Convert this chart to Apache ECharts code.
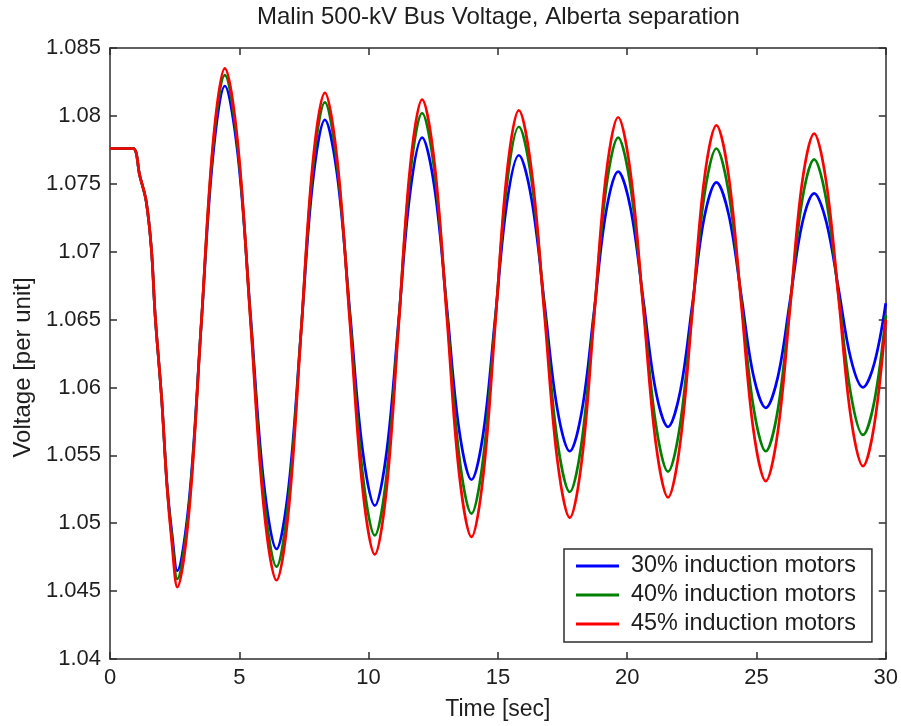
<!DOCTYPE html>
<html>
<head>
<meta charset="utf-8">
<script src="https://cdn.jsdelivr.net/npm/echarts@6/dist/echarts.min.js"></script>
<style>
html,body{margin:0;padding:0;background:#fff;}
#chart{width:901px;height:726px;}
</style>
</head>
<body>
<div id="chart"></div>
<script>
const titleText = 'Malin 500-kV Bus Voltage, Alberta separation';
const xName = 'Time [sec]';
const yName = 'Voltage [per unit]';
const seriesNames = ['30% induction motors', '40% induction motors', '45% induction motors'];

const times = [0, 0.5, 0.9, 1.15, 1.4, 1.6, 1.75, 2.0, 2.2, 2.4, 2.6,
  3.06, 3.52, 3.98, 4.44,
  4.94, 5.44, 5.94, 6.44,
  6.91, 7.38, 7.84, 8.31,
  8.79, 9.28, 9.76, 10.24,
  10.70, 11.16, 11.61, 12.07,
  12.55, 13.03, 13.50, 13.98,
  14.44, 14.90, 15.35, 15.81,
  16.30, 16.80, 17.29, 17.78,
  18.25, 18.72, 19.18, 19.65,
  20.13, 20.62, 21.10, 21.58,
  22.05, 22.52, 22.98, 23.45,
  23.93, 24.41, 24.88, 25.36,
  25.83, 26.30, 26.76, 27.23,
  27.70, 28.18, 28.65, 29.12,
  29.56, 30];

const blue30 = [1.0776, 1.0776, 1.0776, 1.0756, 1.0737, 1.0702, 1.0652, 1.0591, 1.0530, 1.0492, 1.0465,
  1.0517, 1.0644, 1.0770, 1.0822,
  1.0772, 1.0652, 1.0531, 1.0481,
  1.0527, 1.0639, 1.0751, 1.0797,
  1.0756, 1.0655, 1.0555, 1.0513,
  1.0553, 1.0649, 1.0744, 1.0784,
  1.0747, 1.0658, 1.0569, 1.0532,
  1.0567, 1.0652, 1.0736, 1.0771,
  1.0739, 1.0662, 1.0585, 1.0553,
  1.0583, 1.0656, 1.0729, 1.0759,
  1.0732, 1.0665, 1.0598, 1.0571,
  1.0597, 1.0661, 1.0725, 1.0751,
  1.0727, 1.0668, 1.0609, 1.0585,
  1.0608, 1.0664, 1.0720, 1.0743,
  1.0722, 1.0672, 1.0621, 1.0600,
  1.0618, 1.0662];

const green40 = [1.0776, 1.0776, 1.0776, 1.0756, 1.0737, 1.0702, 1.0652, 1.0591, 1.0529, 1.0488, 1.0459,
  1.0513, 1.0644, 1.0776, 1.0830,
  1.0777, 1.0649, 1.0521, 1.0468,
  1.0518, 1.0639, 1.0760, 1.0810,
  1.0763, 1.0651, 1.0538, 1.0491,
  1.0536, 1.0647, 1.0757, 1.0802,
  1.0759, 1.0655, 1.0550, 1.0507,
  1.0549, 1.0650, 1.0750, 1.0792,
  1.0753, 1.0658, 1.0562, 1.0523,
  1.0561, 1.0654, 1.0746, 1.0784,
  1.0748, 1.0661, 1.0574, 1.0538,
  1.0573, 1.0657, 1.0741, 1.0776,
  1.0743, 1.0665, 1.0586, 1.0553,
  1.0584, 1.0661, 1.0737, 1.0768,
  1.0738, 1.0667, 1.0595, 1.0565,
  1.0590, 1.0653];

const red45 = [1.0776, 1.0776, 1.0776, 1.0756, 1.0737, 1.0702, 1.0652, 1.0591, 1.0528, 1.0484, 1.0453,
  1.0509, 1.0644, 1.0779, 1.0835,
  1.0780, 1.0647, 1.0513, 1.0458,
  1.0510, 1.0638, 1.0765, 1.0817,
  1.0767, 1.0647, 1.0527, 1.0477,
  1.0526, 1.0645, 1.0763, 1.0812,
  1.0765, 1.0651, 1.0537, 1.0490,
  1.0536, 1.0647, 1.0758, 1.0804,
  1.0760, 1.0654, 1.0548, 1.0504,
  1.0547, 1.0652, 1.0756, 1.0799,
  1.0758, 1.0659, 1.0560, 1.0519,
  1.0559, 1.0656, 1.0753, 1.0793,
  1.0755, 1.0662, 1.0569, 1.0531,
  1.0568, 1.0659, 1.0750, 1.0787,
  1.0751, 1.0665, 1.0578, 1.0542,
  1.0573, 1.0650];

const xMin = 0, xMax = 30, xStep = 5;
const yMin = 1.04, yMax = 1.085, yStep = 0.005;

const FONT = 'Liberation Sans, Arial, Helvetica, sans-serif';
const TXT = '#1e1e1e';
const AX = '#2e2e2e';

const colors = ['#0000ff', '#008000', '#ff0000'];
const seriesData = [blue30, green40, red45];

function axisBase(pos, showLabel) {
  return {
    axisLine: { show: true, onZero: false, lineStyle: { color: AX, width: 1.5 } },
    axisTick: { show: true, inside: true, length: 7, lineStyle: { color: AX, width: 1.5 } },
    splitLine: { show: false },
    axisLabel: { show: showLabel, fontFamily: FONT, fontSize: 22, color: TXT },
    position: pos
  };
}

const chart = echarts.init(document.getElementById('chart'), null, { renderer: 'canvas' });
const option = {
  animation: false,
  backgroundColor: '#ffffff',
  title: {
    text: titleText,
    left: 257,
    top: 5,
    padding: 0,
    textStyle: { fontFamily: FONT, fontSize: 24, fontWeight: 'normal', color: TXT }
  },
  grid: { left: 110, top: 48, width: 776, height: 613, containLabel: false },
  legend: {
    orient: 'vertical',
    left: 564,
    top: 549,
    padding: [5, 16, 6, 12],
    itemWidth: 43,
    itemHeight: 3,
    itemGap: 5,
    icon: 'rect',
    backgroundColor: '#ffffff',
    borderColor: AX,
    borderWidth: 1.5,
    borderRadius: 0,
    textStyle: { fontFamily: FONT, fontSize: 23.4, lineHeight: 24, color: TXT, padding: [0, 0, 0, 7] },
    data: seriesNames
  },
  xAxis: [
    Object.assign(axisBase('bottom', true), {
      type: 'value', min: xMin, max: xMax, interval: xStep,
      name: xName, nameLocation: 'middle', nameGap: 39,
      nameTextStyle: { fontFamily: FONT, fontSize: 23, color: TXT },
      axisLabel: { show: true, fontFamily: FONT, fontSize: 22, color: TXT, margin: 8 }
    }),
    Object.assign(axisBase('top', false), {
      type: 'value', min: xMin, max: xMax, interval: xStep
    })
  ],
  yAxis: [
    Object.assign(axisBase('left', true), {
      type: 'value', min: yMin, max: yMax, interval: yStep,
      name: yName, nameLocation: 'middle', nameGap: 72,
      nameTextStyle: { fontFamily: FONT, fontSize: 24, color: TXT, padding: [0, 28, 0, 0] },
      axisLabel: {
        show: true, fontFamily: FONT, fontSize: 22, color: TXT, margin: 9,
        formatter: function (v) { return String(+v.toFixed(3)); }
      }
    }),
    Object.assign(axisBase('right', false), {
      type: 'value', min: yMin, max: yMax, interval: yStep
    })
  ],
  series: seriesNames.map(function (name, k) {
    return {
      name: name,
      type: 'line',
      xAxisIndex: 0,
      yAxisIndex: 0,
      symbol: 'none',
      showSymbol: false,
      smooth: 0.35,
      color: colors[k],
      lineStyle: { color: colors[k], width: 2.7 },
      z: 2 + k,
      data: times.map(function (t, i) { return [t, seriesData[k][i]]; })
    };
  })
};
chart.setOption(option);
</script>
</body>
</html>
